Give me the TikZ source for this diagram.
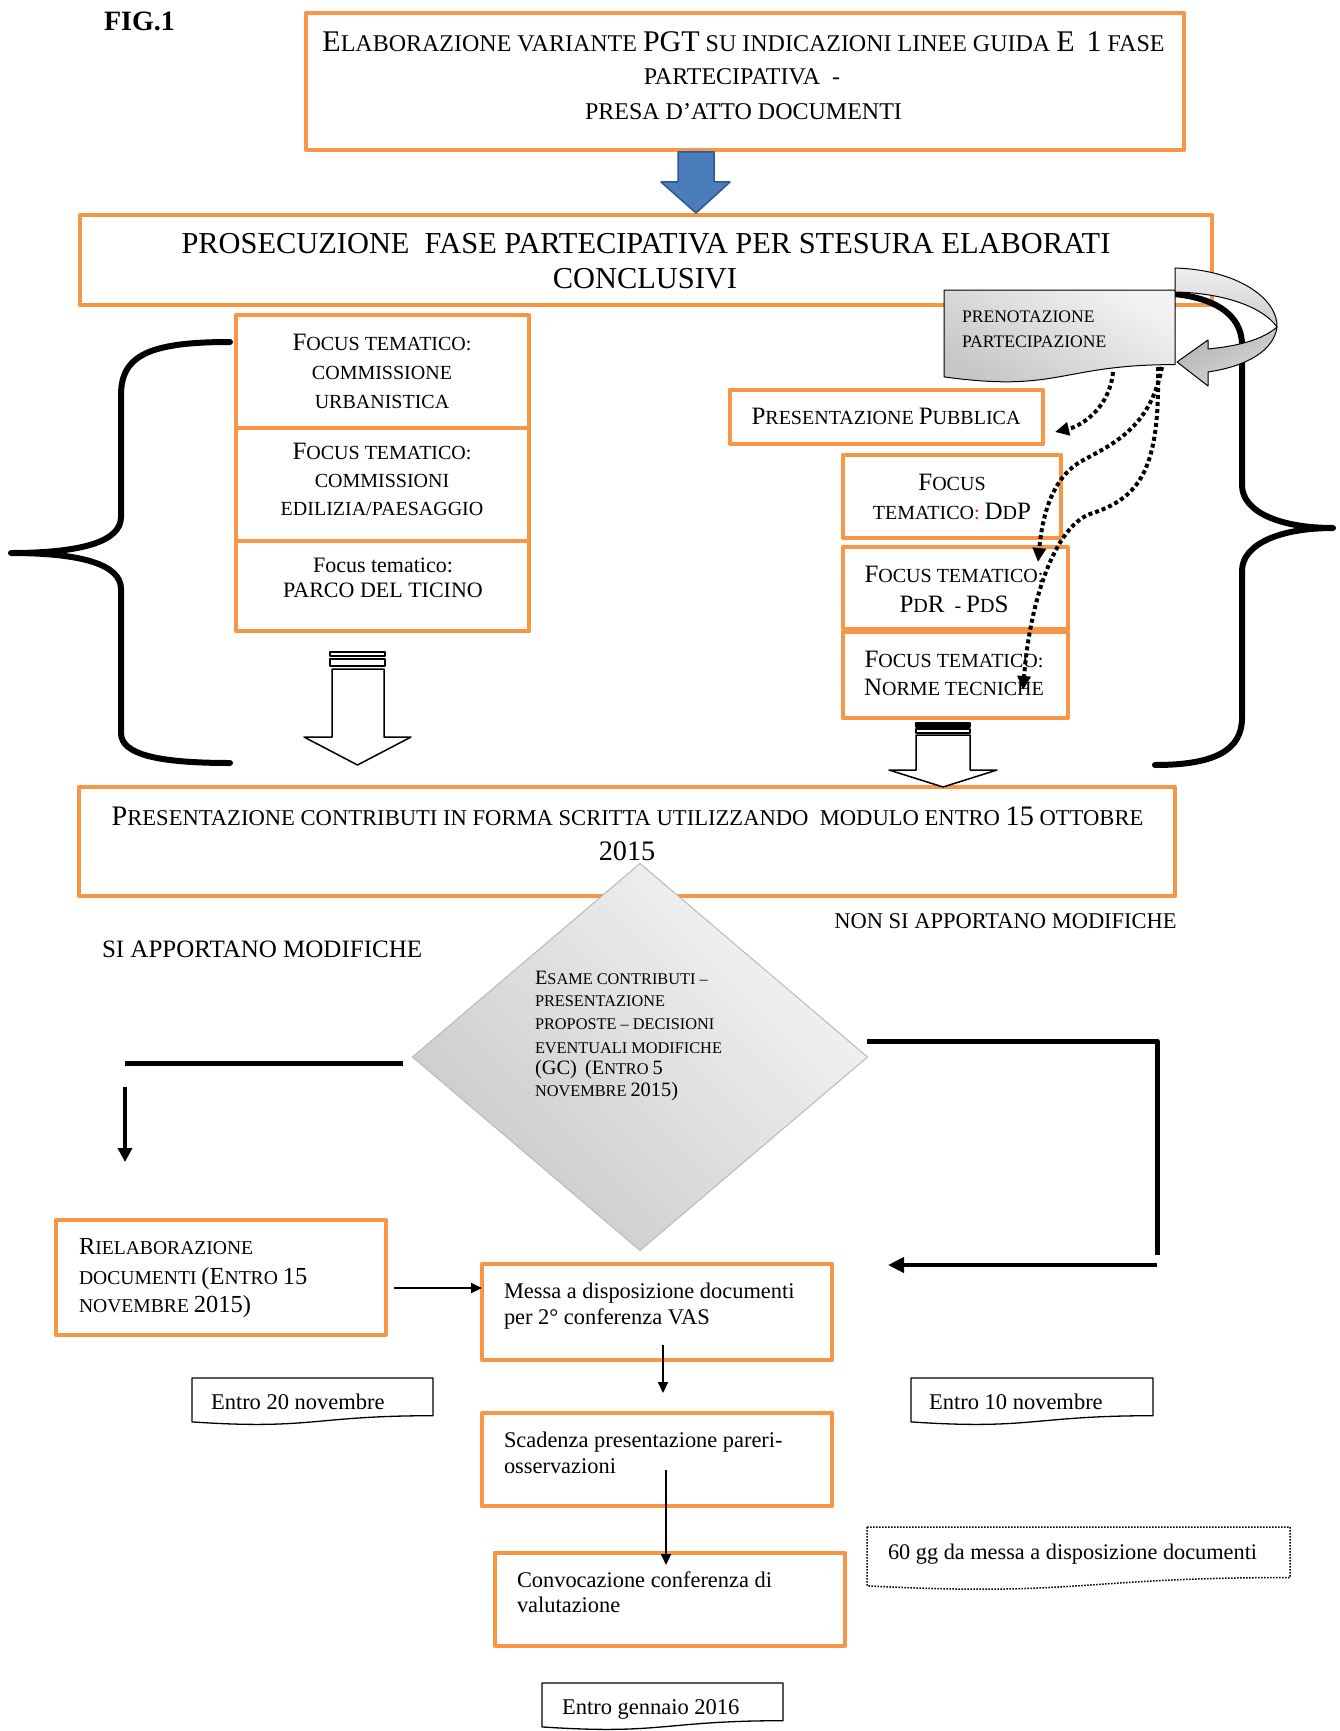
\documentclass[tikz,border=0pt]{standalone}
\usepackage{fontspec}
\usepackage{graphicx}
\setmainfont{Liberation Serif}
\usetikzlibrary{arrows.meta,shapes.geometric}
\definecolor{orng}{HTML}{F79646}
\definecolor{bluef}{HTML}{4A7EBB}
\definecolor{blued}{HTML}{2F5597}
\newcommand\Bg[1]{\scalebox{1.25}{#1}}
\newcommand\fs[1]{\fontsize{#1}{#1}\selectfont}
\newcommand\docshape[6]{%
  \pgfmathsetmacro\dxm{(#2+#4)/2}%
  \pgfmathsetmacro\dya{#3+0.802*#5}%
  \pgfmathsetmacro\dyb{#3+1.107*#5}%
  \pgfmathsetmacro\dyc{#3+0.934*#5}%
  \path[#1] (#2,#3) -- (#4,#3) -- (#4,\dya) .. controls (\dxm,\dya) and (\dxm,\dyb) .. (#2,\dyc) -- cycle;
  \coordinate (#6) at (\dxm,#3);}
\begin{document}
\begin{tikzpicture}[x=1pt,y=-1pt,line join=round,
  obox/.style={draw=orng,line width=4.5pt,fill=white,inner sep=0pt,outer sep=0pt,rectangle},
  tx/.style={inner sep=0pt,outer sep=0pt,anchor=base},
  txl/.style={inner sep=0pt,outer sep=0pt,anchor=base west},
  bracel/.style={line width=6pt,line cap=round},
  dotarr/.style={line width=4pt,dash pattern=on 4pt off 3pt,-{Triangle[length=14pt,width=13pt]}},
  heavy/.style={line width=5pt},
  heavyarr/.style={line width=4pt,-{Triangle[length=16pt,width=15pt]}},
  thinarr/.style={line width=2pt,-{Triangle[length=11pt,width=10pt]}},
  blockarr/.style={draw=black,line width=1.5pt,fill=white},
  docblack/.style={draw=black,line width=1.3pt,fill=white},
  docdot/.style={draw=black,line width=1.5pt,dash pattern=on 1.5pt off 1.5pt,fill=white}]
\useasboundingbox (0,0) rectangle (1339,1731);

% boxes
\node[obox,minimum width=878pt,minimum height=137pt] (top) at (745,81.5) {};
\node[obox,minimum width=1132pt,minimum height=90pt] (pros) at (646,260) {};
\node[obox,minimum width=293pt,minimum height=113pt] (fa) at (382.5,371.5) {};
\node[obox,minimum width=293pt,minimum height=113pt] (fb) at (382.5,484.5) {};
\node[obox,minimum width=293pt,minimum height=90pt] (fc) at (382.5,586) {};
\node[obox,minimum width=313pt,minimum height=54pt] (pp) at (886.5,417) {};
\node[obox,minimum width=218pt,minimum height=83pt] (ddp) at (952,496.5) {};
\node[obox,minimum width=225pt,minimum height=82pt] (pdr) at (955.5,588) {};
\node[obox,minimum width=225pt,minimum height=86pt] (nt) at (955.5,675) {};
\node[obox,minimum width=1096pt,minimum height=109pt] (pc) at (627,841.5) {};
\node[obox,minimum width=330pt,minimum height=115pt] (riel) at (221,1277.5) {};
\node[obox,minimum width=350pt,minimum height=96pt] (messa) at (657,1312) {};
\node[obox,minimum width=350pt,minimum height=93pt] (scad) at (657,1459.5) {};
\node[obox,minimum width=350pt,minimum height=93pt] (conv) at (670,1599.5) {};

% blue arrow
\path[fill=bluef,draw=blued,line width=1.5pt] (678,152) -- (714,152) -- (714,182) -- (730,182) -- (696,213) -- (661,182) -- (678,182) -- cycle;

% braces
\draw[bracel] (230,342) .. controls (150,342) and (121,355) .. (121,395) -- (121,517) .. controls (121,542) and (80,553) .. (11,553) .. controls (80,553) and (121,564) .. (121,589) -- (121,733) .. controls (121,755) and (160,763) .. (230,763);
\draw[bracel] (1160,293) .. controls (1215,295) and (1242,315) .. (1242,345) -- (1242,485) .. controls (1242,512) and (1280,528) .. (1333,528) .. controls (1280,528) and (1242,544) .. (1242,571) -- (1242,718) .. controls (1242,750) and (1215,765) .. (1155,765);

% prenotazione document + curved arrow
\docshape{draw=black,line width=1pt,top color=gray!10,bottom color=gray!45,shading angle=-30}{944}{290}{1175}{93}{pren}
\path[draw=black,line width=1pt,top color=gray!12,bottom color=gray!40] (1175,268) .. controls (1240,270) and (1278,300) .. (1277,327) .. controls (1262,306) and (1222,293) .. (1175,292) -- cycle;
\path[draw=black,line width=1pt,top color=gray!60,bottom color=gray!30,shading angle=30] (1277,327) .. controls (1262,340) and (1238,346) .. (1208,349) -- (1208,340) -- (1177,362) -- (1208,386) -- (1208,372) .. controls (1248,366) and (1274,350) .. (1277,327) -- cycle;

% block arrows
\path[blockarr] (330,652) rectangle (385,656);
\path[blockarr] (330,659) rectangle (385,666);
\path[blockarr] (332,669) -- (384,669) -- (384,737) -- (411,737) -- (357.5,765) -- (304,737) -- (332,737) -- cycle;
\path[blockarr,fill=black] (916,723) rectangle (970,727);
\path[blockarr] (916,729) rectangle (970,733);
\path[blockarr] (916,735) -- (970,735) -- (970,770) -- (997,770) -- (943,787) -- (889,770) -- (916,770) -- cycle;

% diamond
\node[diamond,draw=gray!55,line width=1pt,top color=gray!8,bottom color=gray!42,shading angle=-45,minimum width=455pt,minimum height=387pt,inner sep=0pt,outer sep=0pt] (dia) at (640,1057) {};

% connectors
\coordinate (la) at (125,1063); \coordinate (lb) at (403,1063);
\coordinate (lc) at (125,1087); \coordinate (ld) at (125,1162);
\draw[heavy] (la) -- (lb);
\draw[line width=3.5pt,-{Triangle[length=14pt,width=14pt]}] (lc) -- (ld);
\coordinate (ra) at (867,1041); \coordinate (rb) at (1157,1041); \coordinate (rc) at (1157,1255);
\coordinate (rd) at (1157,1265); \coordinate (re) at (888,1265);
\draw[heavy] (ra) -- (rb) -- (rc);
\draw[heavyarr] (rd) -- (re);
\coordinate (ma) at (394,1288); \coordinate (mb) at (482,1288);
\draw[thinarr] (ma) -- (mb);
\coordinate (sa) at (663,1345); \coordinate (sb) at (663,1393);
\draw[thinarr] (sa) -- (sb);
\coordinate (ca) at (666,1470); \coordinate (cb) at (666,1565);
\draw[thinarr] (ca) -- (cb);

% documents
\docshape{docblack}{192}{1378}{433}{47}{e20}
\docshape{docblack}{911}{1378}{1153}{47}{e10}
\docshape{docdot}{867}{1527}{1290}{63}{e60}
\docshape{docblack}{542}{1683}{783}{47}{egen}

% texts
\node[txl,font=\fs{28}\bfseries] (fig) at (104,31) {FIG.1};
\node[tx,font=\fs{24}] (topa) at (743.5,52) {\Bg{E}LABORAZIONE VARIANTE \Bg{PGT} SU INDICAZIONI LINEE GUIDA \Bg{E}\ \ \Bg{1} FASE};
\node[tx,font=\fs{24}] (topb) at (742,85) {PARTECIPATIVA\ \ -};
\node[tx,font=\fs{24}] (topc) at (743.5,120) {PRESA D’ATTO DOCUMENTI};
\node[tx,font=\fs{30.4}] (prosa) at (646,253) {PROSECUZIONE\ \ FASE PARTECIPATIVA PER STESURA ELABORATI};
\node[tx,font=\fs{30.4}] (prosb) at (645,288) {CONCLUSIVI};

\node[tx,font=\fs{20}] (faa) at (382,350) {\Bg{F}OCUS TEMATICO:};
\node[tx,font=\fs{20}] (fab) at (382,379) {COMMISSIONE};
\node[tx,font=\fs{20}] (fac) at (382,408) {URBANISTICA};
\node[tx,font=\fs{20}] (fba) at (382,459) {\Bg{F}OCUS TEMATICO:};
\node[tx,font=\fs{20}] (fbb) at (382,487) {COMMISSIONI};
\node[tx,font=\fs{20}] (fbc) at (382,515) {EDILIZIA/PAESAGGIO};
\node[tx,font=\fs{22}] (fca) at (383,572) {Focus tematico:};
\node[tx,font=\fs{22}] (fcb) at (383,597) {PARCO DEL TICINO};

\node[tx,font=\fs{20}] (ppa) at (886,424) {\Bg{P}RESENTAZIONE \Bg{P}UBBLICA};
\node[tx,font=\fs{20}] (ddpa) at (952,490) {\Bg{F}OCUS};
\node[tx,font=\fs{20}] (ddpb) at (952,519) {TEMATICO\textcolor{red}{:} \Bg{D}D\Bg{P}};
\node[tx,font=\fs{20}] (pdra) at (954,582) {\Bg{F}OCUS TEMATICO:};
\node[tx,font=\fs{20}] (pdrb) at (954,612) {\Bg{P}D\Bg{R}\ \ -\ \Bg{P}D\Bg{S}};
\node[tx,font=\fs{20}] (nta) at (954,667) {\Bg{F}OCUS TEMATICO:};
\node[tx,font=\fs{20}] (ntb) at (954,695) {\Bg{N}ORME TECNICHE};

\node[txl,font=\fs{17.6}] (prena) at (962,322) {PRENOTAZIONE};
\node[txl,font=\fs{17.6}] (prenb) at (962,347) {PARTECIPAZIONE};

\node[tx,font=\fs{22.6}] (pca) at (627.5,825) {\Bg{P}RESENTAZIONE CONTRIBUTI IN FORMA SCRITTA UTILIZZANDO\ \ MODULO ENTRO \Bg{15} OTTOBRE};
\node[tx,font=\fs{22.6}] (pcb) at (627,860) {\Bg{2015}};

\node[inner sep=0pt,anchor=base east,font=\fs{22.5}] (nonsi) at (1177,928) {NON SI APPORTANO MODIFICHE};
\node[txl,font=\fs{25}] (si) at (102,957) {SI APPORTANO MODIFICHE};

\node[txl,font=\fs{16.3}] (diaa) at (535,984) {\Bg{E}SAME CONTRIBUTI –};
\node[txl,font=\fs{16.3}] (diab) at (535,1006) {PRESENTAZIONE};
\node[txl,font=\fs{16.3}] (diac) at (535,1029) {PROPOSTE – DECISIONI};
\node[txl,font=\fs{16.3}] (diad) at (535,1053) {EVENTUALI MODIFICHE};
\node[txl,font=\fs{16.3}] (diae) at (535,1074) {\Bg{(GC)}\ \ \Bg{(E}NTRO \Bg{5}};
\node[txl,font=\fs{16.3}] (diaf) at (535,1096) {NOVEMBRE \Bg{2015)}};

\node[txl,font=\fs{19.6}] (riela) at (79,1254) {\Bg{R}IELABORAZIONE};
\node[txl,font=\fs{19.6}] (rielb) at (79,1284) {DOCUMENTI \Bg{(E}NTRO \Bg{15}};
\node[txl,font=\fs{19.6}] (rielc) at (79,1312) {NOVEMBRE \Bg{2015)}};

\node[txl,font=\fs{22.4}] (messaa) at (504,1298) {Messa a disposizione documenti};
\node[txl,font=\fs{22.4}] (messab) at (504,1324) {per 2° conferenza VAS};
\node[txl,font=\fs{22.4}] (scada) at (504,1447) {Scadenza presentazione pareri-};
\node[txl,font=\fs{22.4}] (scadb) at (504,1473) {osservazioni};
\node[txl,font=\fs{22.4}] (conva) at (517,1587) {Convocazione conferenza di};
\node[txl,font=\fs{22.4}] (convb) at (517,1612) {valutazione};

\node[txl,font=\fs{22.5}] (e20t) at (211,1409) {Entro 20 novembre};
\node[txl,font=\fs{22.5}] (e10t) at (929,1409) {Entro 10 novembre};
\node[txl,font=\fs{22.3}] (e60t) at (888,1559) {60 gg da messa a disposizione documenti};
\node[txl,font=\fs{22.5}] (egent) at (562,1714) {Entro gennaio 2016};

% dotted arrows
\coordinate (d1s) at (1113,372); \coordinate (d1e) at (1055,432);
\coordinate (d2s) at (1162,367); \coordinate (d2e) at (1038,562);
\coordinate (d3s) at (1158,367); \coordinate (d3e) at (1023,690);
\draw[dotarr] (d1s) .. controls (1110,405) and (1085,425) .. (d1e);
\draw[dotarr] (d2s) .. controls (1150,430) and (1110,445) .. (1080,462) .. controls (1050,480) and (1042,520) .. (d2e);
\draw[dotarr] (d3s) .. controls (1160,470) and (1140,498) .. (1090,514) .. controls (1055,527) and (1030,600) .. (d3e);
\end{tikzpicture}
\end{document}
